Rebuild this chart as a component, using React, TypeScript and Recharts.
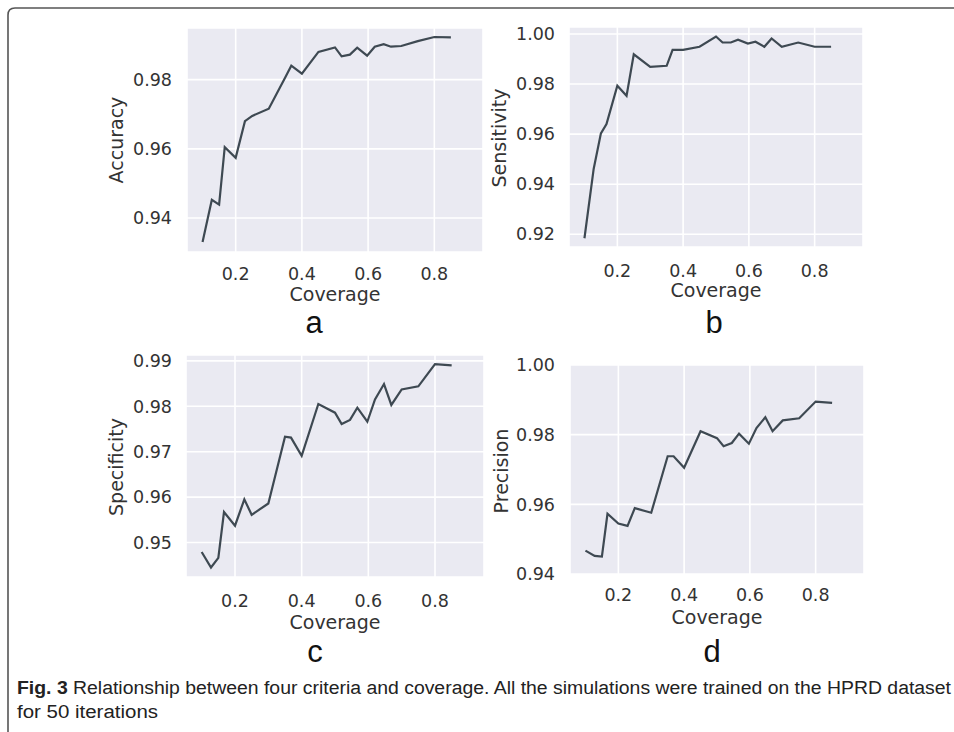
import React from 'react';
import { LineChart, Line, XAxis, YAxis, CartesianGrid } from 'recharts';

// ---------- data ----------
const coverage = [0.1, 0.128, 0.15, 0.167, 0.2, 0.228, 0.25, 0.3, 0.35, 0.368, 0.4, 0.45, 0.5, 0.52, 0.545, 0.567, 0.597, 0.62, 0.647, 0.669, 0.7, 0.75, 0.8, 0.85];
const accuracy = [0.9331, 0.9453, 0.9439, 0.9605, 0.9574, 0.968, 0.9695, 0.9716, 0.9807, 0.984, 0.9817, 0.988, 0.9893, 0.9867, 0.9872, 0.9892, 0.9869, 0.9895, 0.9902, 0.9895, 0.9897, 0.9911, 0.9923, 0.9922];
const sensitivity = [0.9184, 0.9461, 0.9603, 0.964, 0.9793, 0.9753, 0.9919, 0.9869, 0.9873, 0.9937, 0.9937, 0.9949, 0.999, 0.9966, 0.9966, 0.9977, 0.9962, 0.9969, 0.9949, 0.9982, 0.9949, 0.9966, 0.9949, 0.9949];
const specificity = [0.9479, 0.9445, 0.9466, 0.9567, 0.9537, 0.9595, 0.9561, 0.9586, 0.9733, 0.9731, 0.9691, 0.9805, 0.9786, 0.9761, 0.977, 0.9797, 0.9766, 0.9815, 0.9849, 0.9803, 0.9837, 0.9844, 0.9893, 0.989];
const precision = [0.9467, 0.9452, 0.945, 0.9573, 0.9545, 0.9538, 0.9589, 0.9576, 0.9738, 0.9738, 0.9705, 0.981, 0.979, 0.9767, 0.9776, 0.9803, 0.9774, 0.9819, 0.985, 0.981, 0.9841, 0.9847, 0.9895, 0.9891];

const xTicks = [0.2, 0.4, 0.6, 0.8];
const accuracyTicks = [0.94, 0.96, 0.98];
const sensitivityTicks = [0.92, 0.94, 0.96, 0.98, 1.0];
const specificityTicks = [0.95, 0.96, 0.97, 0.98, 0.99];
const precisionTicks = [0.94, 0.96, 0.98, 1.0];

const xTitle = 'Coverage';
const yTitles = ['Accuracy', 'Sensitivity', 'Specificity', 'Precision'];
const panelLetters = ['a', 'b', 'c', 'd'];
const captionBold = 'Fig. 3';
const captionLine1 = 'Relationship between four criteria and coverage. All the simulations were trained on the HPRD dataset';
const captionLine2 = 'for 50 iterations';

// ---------- layout / style ----------
const xDomain: [number, number] = [0.053, 0.947];
const TICK_FS = 17.5;
const TITLE_FS = 19;
const TEXT_COLOR = '#333333';
const LINE_COLOR = '#3e4952';
const FONT = "'DejaVu Sans', sans-serif";

type Layout = { l: number; t: number; r: number; b: number; xTickBase: number; yTickGap: number };

function Panel({ values, yDomain, yTicks, layout }: { values: number[]; yDomain: [number, number]; yTicks: number[]; layout: Layout }) {
  const padL = 90, padT = 20, padR = 20, padB = 70;
  const w = layout.r - layout.l + padL + padR;
  const h = layout.b - layout.t + padT + padB;
  const data = coverage.map((x, i) => ({ x, y: values[i] }));
  const tickStyle = { fontSize: TICK_FS, fill: TEXT_COLOR, fontFamily: FONT };
  return (
    <div style={{ position: 'absolute', left: layout.l - padL, top: layout.t - padT }}>
      <LineChart width={w} height={h} data={data} margin={{ top: padT, right: padR, bottom: 0, left: 0 }}>
        <CartesianGrid fill="#EAEAF2" fillOpacity={1} stroke="#FFFFFF" strokeWidth={1.6} />
        <XAxis
          dataKey="x"
          type="number"
          domain={xDomain}
          ticks={xTicks}
          allowDataOverflow
          interval={0}
          axisLine={false}
          tickLine={false}
          tickSize={0}
          tickMargin={layout.xTickBase - 0.71 * TICK_FS}
          height={padB}
          tick={tickStyle}
          tickFormatter={(v: number) => v.toFixed(1)}
        />
        <YAxis
          type="number"
          domain={yDomain}
          ticks={yTicks}
          allowDataOverflow
          interval={0}
          axisLine={false}
          tickLine={false}
          tickSize={0}
          tickMargin={layout.yTickGap}
          width={padL}
          tick={tickStyle}
          tickFormatter={(v: number) => v.toFixed(2)}
        />
        <Line type="linear" dataKey="y" stroke={LINE_COLOR} strokeWidth={2.2} dot={false} isAnimationActive={false} />
      </LineChart>
    </div>
  );
}

const layouts: Layout[] = [
  { l: 187, t: 28, r: 483, b: 252, xTickBase: 28, yTickGap: 15 },
  { l: 569, t: 27, r: 863, b: 247, xTickBase: 30, yTickGap: 14 },
  { l: 186, t: 355, r: 484, b: 577, xTickBase: 30, yTickGap: 14 },
  { l: 570, t: 365, r: 864, b: 574, xTickBase: 27, yTickGap: 15 },
];

const yTitlePos = [
  { x: 123, y: 140 },
  { x: 506, y: 138 },
  { x: 123, y: 467 },
  { x: 508, y: 471 },
];
const xTitleBase = [301, 297, 629, 624];
const letterPos = [
  { x: 314, y: 333 },
  { x: 714, y: 333 },
  { x: 315, y: 662 },
  { x: 712, y: 662 },
];

export default function App() {
  const series = [
    { values: accuracy, domain: [0.9302, 0.9949] as [number, number], ticks: accuracyTicks },
    { values: sensitivity, domain: [0.9149, 1.0028] as [number, number], ticks: sensitivityTicks },
    { values: specificity, domain: [0.9424, 0.9913] as [number, number], ticks: specificityTicks },
    { values: precision, domain: [0.94, 1.0] as [number, number], ticks: precisionTicks },
  ];
  return (
    <div style={{ position: 'fixed', left: 0, top: 0, width: 954, height: 732, background: '#ffffff', overflow: 'hidden' }}>
      {series.map((s, i) => (
        <Panel key={i} values={s.values} yDomain={s.domain} yTicks={s.ticks} layout={layouts[i]} />
      ))}
      <svg width={954} height={732} style={{ position: 'absolute', left: 0, top: 0, pointerEvents: 'none' }}>
        <path d="M 8 732 L 8 15 Q 8 8 15 8 L 954 8" fill="none" stroke="#555555" strokeWidth={1.6} />
        {layouts.map((lay, i) => (
          <text
            key={'xt' + i}
            x={(lay.l + lay.r) / 2}
            y={xTitleBase[i]}
            textAnchor="middle"
            fontSize={TITLE_FS}
            fontFamily={FONT}
            fill={TEXT_COLOR}
          >
            {xTitle}
          </text>
        ))}
        {yTitles.map((t, i) => (
          <text
            key={'yt' + i}
            x={yTitlePos[i].x}
            y={yTitlePos[i].y}
            transform={`rotate(-90 ${yTitlePos[i].x} ${yTitlePos[i].y})`}
            textAnchor="middle"
            fontSize={TITLE_FS}
            fontFamily={FONT}
            fill={TEXT_COLOR}
          >
            {t}
          </text>
        ))}
        {panelLetters.map((t, i) => (
          <text
            key={'pl' + i}
            x={letterPos[i].x}
            y={letterPos[i].y}
            textAnchor="middle"
            fontSize={31}
            fontFamily="'Liberation Sans', Arial, sans-serif"
            fill="#111111"
          >
            {t}
          </text>
        ))}
        <text
          x={17}
          y={694}
          fontSize={18}
          fontFamily="'Liberation Sans', Arial, sans-serif"
          fill="#222222"
          textLength={934}
          lengthAdjust="spacingAndGlyphs"
        >
          <tspan fontWeight="bold">{captionBold}</tspan>
          <tspan>{'  ' + captionLine1}</tspan>
        </text>
        <text
          x={17}
          y={718}
          fontSize={18}
          fontFamily="'Liberation Sans', Arial, sans-serif"
          fill="#222222"
          textLength={141}
          lengthAdjust="spacingAndGlyphs"
        >
          {captionLine2}
        </text>
      </svg>
    </div>
  );
}
